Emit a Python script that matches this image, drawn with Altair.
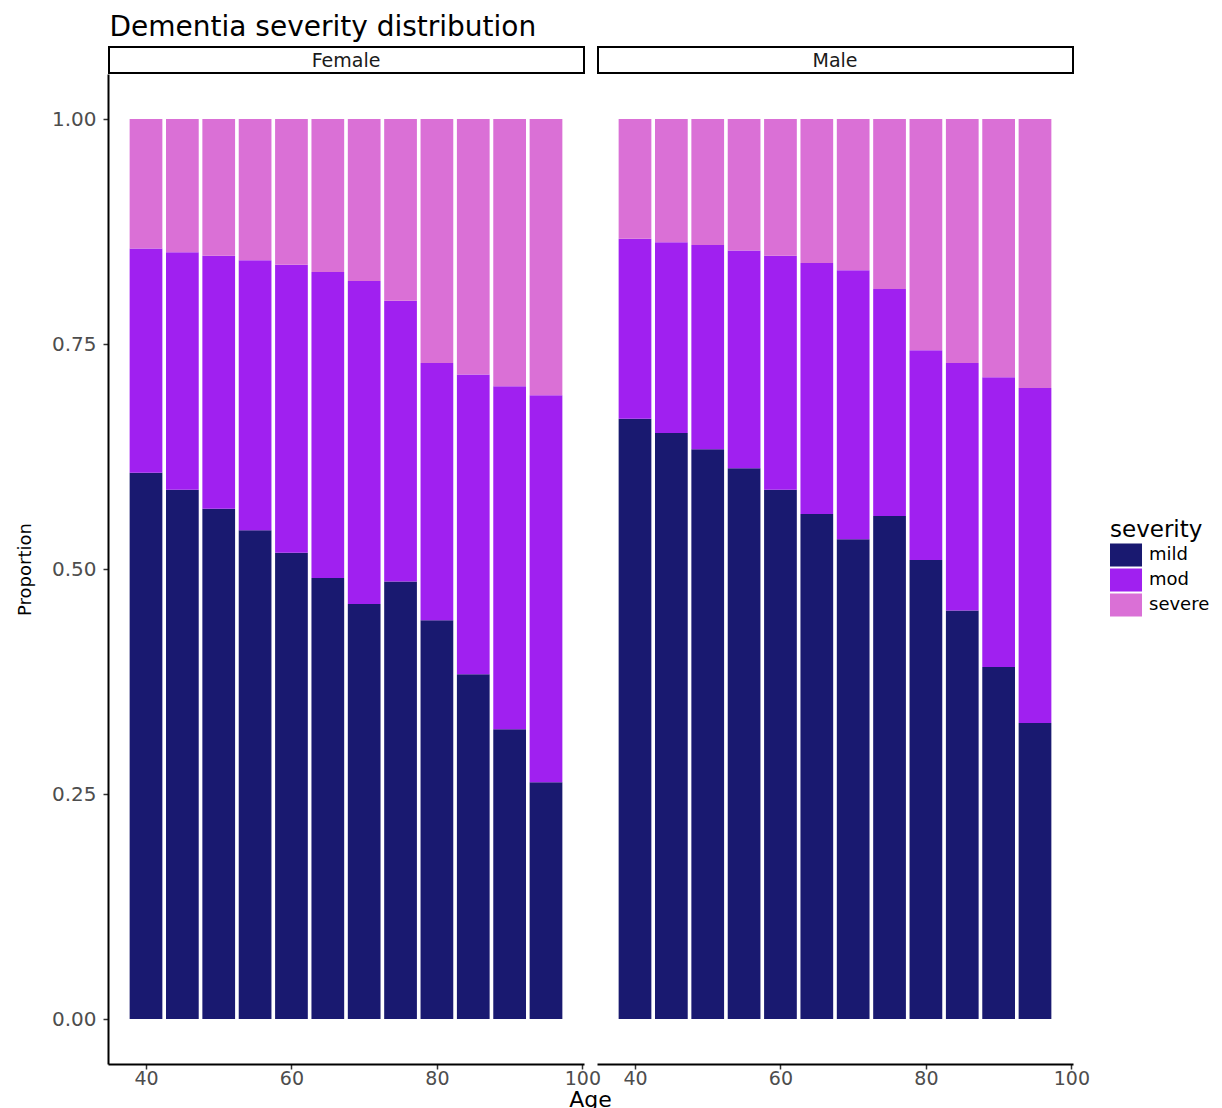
import altair as alt
import pandas as pd

# ---- data ----
ages = [40, 45, 50, 55, 60, 65, 70, 75, 80, 85, 90, 95]
severity_levels = ["mild", "mod", "severe"]
severity_colors = ["#191970", "#A020F0", "#DA70D6"]

female_mild = [0.607, 0.588, 0.567, 0.543, 0.518, 0.490, 0.461, 0.486, 0.443, 0.383, 0.322, 0.263]
female_mod = [0.249, 0.264, 0.281, 0.300, 0.320, 0.340, 0.359, 0.312, 0.286, 0.333, 0.381, 0.430]
female_severe = [0.144, 0.148, 0.152, 0.157, 0.162, 0.170, 0.180, 0.202, 0.271, 0.284, 0.297, 0.307]

male_mild = [0.667, 0.651, 0.633, 0.612, 0.588, 0.561, 0.533, 0.559, 0.510, 0.454, 0.391, 0.329]
male_mod = [0.200, 0.212, 0.227, 0.242, 0.260, 0.279, 0.299, 0.252, 0.233, 0.275, 0.322, 0.372]
male_severe = [0.133, 0.137, 0.140, 0.146, 0.152, 0.160, 0.168, 0.189, 0.257, 0.271, 0.287, 0.299]

y_ticks = [0, 0.25, 0.5, 0.75, 1.0]
x_ticks = [40, 60, 80, 100]

rows = []
for sex, mild, mod, sev in [("Female", female_mild, female_mod, female_severe),
                            ("Male", male_mild, male_mod, male_severe)]:
    for i, a in enumerate(ages):
        for k, (lvl, v) in enumerate(zip(severity_levels, (mild[i], mod[i], sev[i]))):
            rows.append({"sex": sex, "age": a, "severity": lvl, "order": k, "prop": v})
df = pd.DataFrame(rows)

FONT = "DejaVu Sans"
W, H = 476, 990
color_scale = alt.Scale(domain=severity_levels, range=severity_colors)
x_scale = alt.Scale(domain=[34.775, 100.225], nice=False, zero=False)
y_scale = alt.Scale(domain=[-0.05, 1.05], nice=False, zero=False)

# legend key: 32 x 23 rectangle starting at the entry's left edge
rect_path = "M-1,-1.05L1.91,-1.05L1.91,1.05L-1,1.05Z"


def x_axis(title):
    kw = dict(values=x_ticks, grid=False, domainColor="black", domainWidth=2,
              tickColor="#333333", tickSize=5, tickWidth=1.5,
              labelColor="#4D4D4D", labelFont=FONT, labelFontSize=19, labelPadding=0,
              titleFont=FONT, titleFontSize=22, titleFontWeight="normal", titleColor="black",
              titlePadding=1)
    if title:
        kw.update(title=title, titleX=482, titleAlign="center")
    else:
        kw.update(title=None)
    return alt.Axis(**kw)


def panel(sex, first):
    base = alt.Chart(df).transform_filter(alt.datum.sex == sex).transform_stack(
        stack="prop", groupby=["age"], as_=["y0", "y1"],
        sort=[alt.SortField("order", order="ascending")]
    ).transform_calculate(x0="datum.age - 2.25", x1="datum.age + 2.25")

    if first:
        y_enc = alt.Y("y0:Q", scale=y_scale, axis=alt.Axis(
            values=y_ticks, format=".2f", title="Proportion", grid=False,
            domainColor="black", domainWidth=2, tickColor="#333333", tickSize=5, tickWidth=1.5,
            labelColor="#4D4D4D", labelFont=FONT, labelFontSize=20, labelPadding=7,
            titleFont=FONT, titleFontSize=18, titleFontWeight="normal", titleColor="black",
            titlePadding=17))
        color_enc = alt.Color("severity:N", scale=color_scale, legend=alt.Legend(
            title="severity", orient="none", legendX=1002, legendY=445,
            symbolType=rect_path, symbolSize=484, symbolStrokeWidth=0, symbolOpacity=1,
            titleFont=FONT, titleFontSize=23, titleFontWeight="normal", titleColor="black",
            titlePadding=2, labelFont=FONT, labelFontSize=18, labelColor="black",
            labelOffset=17, rowPadding=1))
    else:
        y_enc = alt.Y("y0:Q", scale=y_scale, axis=None)
        color_enc = alt.Color("severity:N", scale=color_scale, legend=None)

    bars = base.mark_rect().encode(
        x=alt.X("x0:Q", scale=x_scale, axis=x_axis("Age" if first else None)),
        x2="x1:Q",
        y=y_enc,
        y2="y1:Q",
        color=color_enc,
    )

    lab = pd.DataFrame({"label": [sex]})
    strip_rect = alt.Chart(lab).mark_rect(fill="white", stroke="black", strokeWidth=2).encode(
        x=alt.value(1), x2=alt.value(W), y=alt.value(-27), y2=alt.value(-1))
    strip_text = alt.Chart(lab).mark_text(font=FONT, fontSize=19, color="#1A1A1A",
                                          align="center", baseline="middle").encode(
        x=alt.value(W / 2), y=alt.value(-13), text="label:N")

    return alt.layer(bars, strip_rect, strip_text).properties(
        width=W, height=H, view=alt.ViewBackground(stroke="transparent", strokeWidth=0))


chart = alt.hconcat(panel("Female", True), panel("Male", False), spacing=13,
                    bounds="flush").properties(
    title=alt.TitleParams("Dementia severity distribution", anchor="start", font=FONT,
                          fontSize=28, fontWeight="normal", color="black", offset=4, dx=93),
    padding={"left": 8, "top": 6, "right": 0, "bottom": 5},
    background="white",
).configure_view(stroke="transparent", strokeWidth=0)

chart.save("out.html", embed_options={"renderer": "svg", "actions": False})
